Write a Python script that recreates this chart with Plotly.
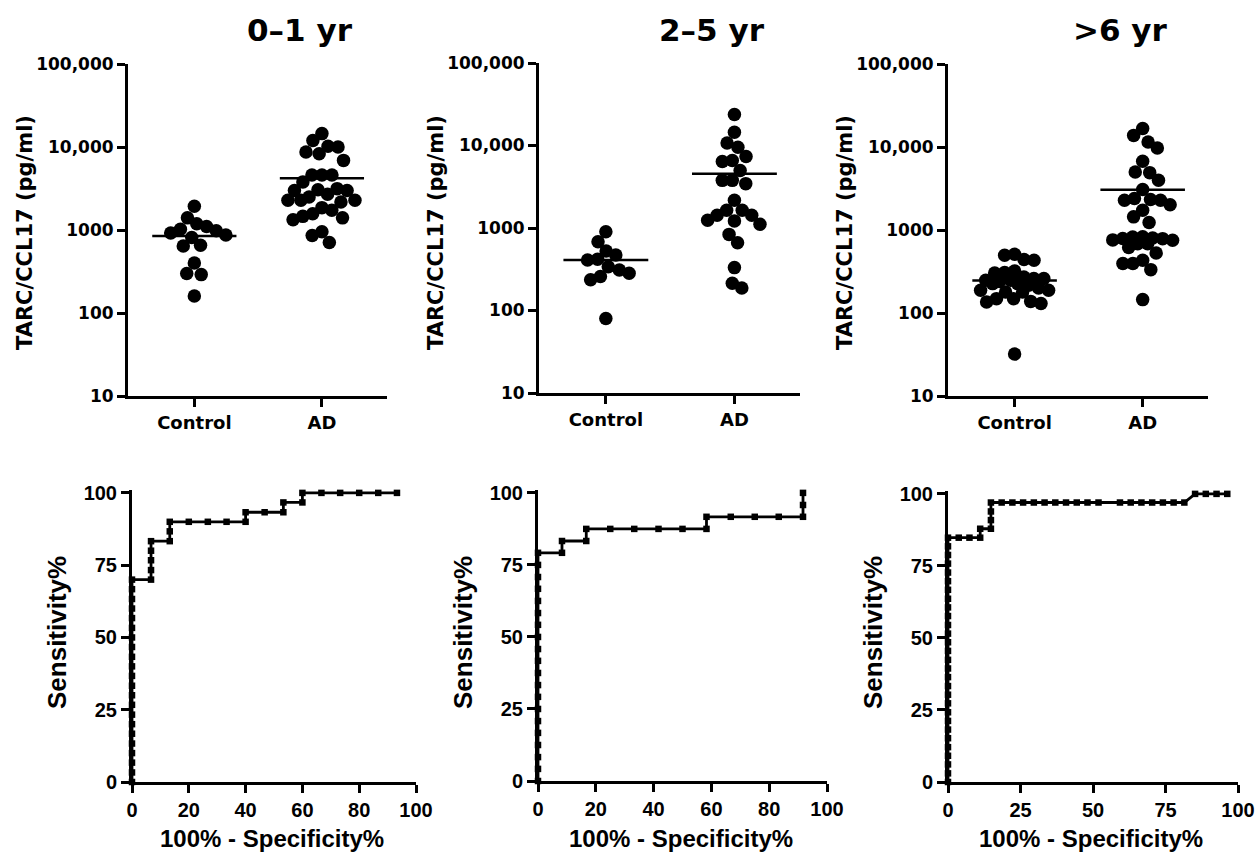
import numpy as np
import plotly.graph_objects as go

W, H = 1259, 853

# ---------------- data ----------------
panel_titles = ["0\u20131 yr", "2\u20135 yr", ">6 yr"]
groups = ["Control", "AD"]

ctrl_0_1 = [1930, 1400, 1190, 1100, 1020, 980, 920, 870, 810, 655, 640, 400, 300, 290, 160]
ad_0_1 = [14500, 12000, 10200, 10000, 8700, 8300, 6900, 4600, 4600, 4600, 3800, 3150, 3000,
          3000, 3060, 2700, 2500, 2280, 2280, 2280, 2170, 1860, 1730, 1570, 1400, 1330, 1460,
          950, 860, 705]

ctrl_2_5 = [900, 682, 526, 471, 418, 410, 340, 310, 283, 258, 236, 80]
ad_2_5 = [23700, 14500, 10700, 9540, 7360, 6590, 6410, 4990, 3780, 3780, 3450, 2170, 1640,
          1640, 1430, 1430, 1240, 1220, 1110, 837, 662, 331, 214, 187]

ctrl_6 = [510, 440, 431, 495, 307, 321, 303, 260, 272, 248, 248, 226, 216, 226, 188, 179,
          179, 188, 149, 136, 130, 138, 149, 32, 240, 200, 260]
ad_6 = [16700, 13800, 11500, 9720, 6730, 4910, 5000, 3970, 3070, 2390, 2280, 2020, 2280,
        2330, 1730, 1440, 1230, 752, 825, 787, 685, 830, 614, 685, 800, 760, 790, 528, 431,
        394, 333, 394, 145]

y_tickvals = [10, 100, 1000, 10000, 100000]
y_ticktext = ["10", "100", "1000", "10,000", "100,000"]

roc1_fpr = [0, 0, 0, 0, 0, 0, 0, 0, 0, 0, 0, 0, 0, 0, 0, 0, 0, 0, 0, 0, 0, 0,
            6.7, 6.7, 6.7, 6.7, 6.7, 13.3, 13.3, 13.3, 20, 26.7, 33.3, 40, 40, 46.7,
            53.3, 53.3, 60, 60, 66.7, 73.3, 80, 86.7, 93.3]
roc1_sens = [0, 3.3, 6.7, 10, 13.3, 16.7, 20, 23.3, 26.7, 30, 33.3, 36.7, 40, 43.3, 46.7,
             50, 53.3, 56.7, 60, 63.3, 66.7, 70,
             70, 73.3, 76.7, 80, 83.3, 83.3, 86.7, 90, 90, 90, 90, 90, 93.3, 93.3,
             93.3, 96.7, 96.7, 100, 100, 100, 100, 100, 100]

roc2_fpr = [0, 0, 0, 0, 0, 0, 0, 0, 0, 0, 0, 0, 0, 0, 0, 0, 0, 0, 0, 0,
            8.3, 8.3, 16.7, 16.7, 25, 33.3, 41.7, 50, 58.3, 58.3, 66.7, 75, 83.3,
            91.7, 91.7, 91.7]
roc2_sens = [0, 4.2, 8.3, 12.5, 16.7, 20.8, 25, 29.2, 33.3, 37.5, 41.7, 45.8, 50, 54.2,
             58.3, 62.5, 66.7, 70.8, 75, 79.2,
             79.2, 83.3, 83.3, 87.5, 87.5, 87.5, 87.5, 87.5, 87.5, 91.7, 91.7, 91.7, 91.7,
             91.7, 95.8, 100]

roc3_fpr = [0, 0, 0, 0, 0, 0, 0, 0, 0, 0, 0, 0, 0, 0, 0, 0, 0, 0, 0, 0, 0, 0, 0, 0, 0,
            0, 0, 0, 0,
            3.7, 7.4, 11.1, 11.1, 14.8, 14.8, 14.8, 14.8,
            18.5, 22.2, 25.9, 29.6, 33.3, 37.0, 40.7, 44.4, 48.1, 51.9, 59.3, 63.0, 66.7,
            70.4, 74.1, 77.8, 81.5, 85.2, 88.9, 92.6, 96.3]
roc3_sens = [0, 3.0, 6.1, 9.1, 12.1, 15.2, 18.2, 21.2, 24.2, 27.3, 30.3, 33.3, 36.4, 39.4,
             42.4, 45.5, 48.5, 51.5, 54.5, 57.6, 60.6, 63.6, 66.7, 69.7, 72.7, 75.8, 78.8,
             81.8, 84.8,
             84.8, 84.8, 84.8, 87.9, 87.9, 90.9, 93.9, 97.0,
             97.0, 97.0, 97.0, 97.0, 97.0, 97.0, 97.0, 97.0, 97.0, 97.0, 97.0, 97.0, 97.0,
             97.0, 97.0, 97.0, 97.0, 100, 100, 100, 100]

roc_xticks = [[0, 20, 40, 60, 80, 100], [0, 20, 40, 60, 80, 100], [0, 25, 50, 75, 100]]
roc_yticks = [0, 25, 50, 75, 100]

scatter_sets = [(ctrl_0_1, ad_0_1), (ctrl_2_5, ad_2_5), (ctrl_6, ad_6)]
roc_sets = [(roc1_fpr, roc1_sens), (roc2_fpr, roc2_sens), (roc3_fpr, roc3_sens)]

# ---------------- layout geometry (pixels) ----------------
top_x = [(128, 387), (539, 800), (948, 1208)]
top_y = [(64, 396), (63, 393), (64, 396)]
bot_x = [(132, 416), (538, 827), (948, 1238)]
bot_y = [(490, 782), (490, 781), (491, 782)]
XR = [-0.52, 1.51]


def xd(a, b):
    return [a / W, b / W]


def yd(a, b):
    return [1 - b / H, 1 - a / H]


def swarm(values, d_px, squeeze, max_half, px_decade, px_unit):
    """Beeswarm with an elliptical exclusion zone and a limited half-width."""
    ys = np.log10(np.asarray(values, float)) * px_decade
    order = np.argsort(-ys, kind="stable")
    placed = []
    xs = np.zeros(len(ys))

    def min_gap(c, y):
        if not placed:
            return np.inf
        return min(((c - px) * squeeze) ** 2 + (y - py) ** 2 for px, py in placed)

    grid = np.arange(-max_half, max_half + 0.01, 1.0)
    for i in order:
        y = ys[i]
        cands = [0.0]
        for (px, py) in placed:
            dy = y - py
            if abs(dy) < d_px:
                dx = np.sqrt(d_px ** 2 - dy ** 2) / squeeze
                cands += [px - dx, px + dx]
        cands = [c for c in cands if abs(c) <= max_half + 1e-9]
        cands.sort(key=lambda c: (round(abs(c), 6), c))
        chosen = None
        for c in cands:
            if min_gap(c, y) >= d_px ** 2 - 1e-6:
                chosen = c
                break
        if chosen is None:
            gaps = [min_gap(g, y) for g in grid]
            chosen = float(grid[int(np.argmax(gaps))])
        placed.append((chosen, y))
        xs[i] = chosen / px_unit
    return xs


fig = go.Figure()
TOPF = "DejaVu Sans"
BOTF = "Liberation Sans"

layout = dict(
    width=W, height=H, margin=dict(l=0, r=0, t=0, b=0, autoexpand=False),
    paper_bgcolor="white", plot_bgcolor="white", showlegend=False,
)
annotations = []


def ann(text, xpx, ypx, family, size, angle=0):
    return dict(text=text, xref="paper", yref="paper", x=xpx / W, y=1 - ypx / H,
                xanchor="center", yanchor="middle", textangle=angle, showarrow=False,
                font=dict(family=family, size=size, color="black", weight="bold"))


for k in range(3):
    # ---- top scatter panel ----
    ax = 2 * k + 1
    xa = "x" if ax == 1 else f"x{ax}"
    ya = "y" if ax == 1 else f"y{ax}"
    (x0, x1), (y0, y1) = top_x[k], top_y[k]
    px_unit = (x1 - x0) / (XR[1] - XR[0])
    px_decade = (y1 - y0) / 4.0
    for gi, vals in enumerate(scatter_sets[k]):
        offs = swarm(vals, 16.0, 1.6, 34.0, px_decade, px_unit)
        fig.add_trace(go.Scatter(
            x=gi + offs, y=vals, mode="markers", xaxis=xa, yaxis=ya,
            marker=dict(size=13.5, color="black", line=dict(width=0)),
            cliponaxis=False, hoverinfo="skip"))
        m = float(np.mean(vals))
        fig.add_trace(go.Scatter(
            x=[gi - 0.33, gi + 0.33], y=[m, m], mode="lines", xaxis=xa, yaxis=ya,
            line=dict(color="black", width=2.5), hoverinfo="skip"))
    layout["xaxis" if ax == 1 else f"xaxis{ax}"] = dict(
        domain=xd(x0, x1), anchor=ya, range=XR, tickvals=[0, 1], ticktext=groups,
        ticks="outside", ticklen=8, tickwidth=3, tickcolor="black", automargin=False,
        showline=True, linewidth=3, linecolor="black", showgrid=False, zeroline=False,
        tickfont=dict(family=TOPF, size=18, color="black", weight="bold"))
    layout["yaxis" if ax == 1 else f"yaxis{ax}"] = dict(
        domain=yd(y0, y1), anchor=xa, type="log", range=[1, 5],
        tickvals=y_tickvals, ticktext=y_ticktext, automargin=False,
        ticks="outside", ticklen=8, tickwidth=3, tickcolor="black",
        showline=True, linewidth=3, linecolor="black", showgrid=False, zeroline=False,
        tickfont=dict(family=TOPF, size=17, color="black", weight="bold"))
    annotations.append(ann(panel_titles[k], (x0 + x1) / 2 + 42, 30, TOPF, 31))
    annotations.append(ann("TARC/CCL17 (pg/ml)", x0 - 103, 233, TOPF, 21, -90))

    # ---- bottom ROC panel ----
    ax = 2 * k + 2
    xa, ya = f"x{ax}", f"y{ax}"
    (x0, x1), (y0, y1) = bot_x[k], bot_y[k]
    fpr, sens = roc_sets[k]
    fig.add_trace(go.Scatter(
        x=fpr, y=sens, mode="lines+markers", xaxis=xa, yaxis=ya,
        line=dict(color="black", width=2.8),
        marker=dict(symbol="square", size=6.5, color="black"),
        cliponaxis=False, hoverinfo="skip"))
    layout[f"xaxis{ax}"] = dict(
        domain=xd(x0, x1), anchor=ya, range=[0, 100], tickvals=roc_xticks[k],
        ticks="outside", ticklen=8, tickwidth=3, tickcolor="black", automargin=False,
        showline=True, linewidth=3, linecolor="black", showgrid=False, zeroline=False,
        tickfont=dict(family=BOTF, size=20, color="black", weight="bold"))
    layout[f"yaxis{ax}"] = dict(
        domain=yd(y0, y1), anchor=xa, range=[0, 101], tickvals=roc_yticks,
        ticks="outside", ticklen=8, tickwidth=3, tickcolor="black", automargin=False,
        showline=True, linewidth=3, linecolor="black", showgrid=False, zeroline=False,
        tickfont=dict(family=BOTF, size=20, color="black", weight="bold"))
    annotations.append(ann("Sensitivity%", x0 - 75, 633, BOTF, 26, -90))
    annotations.append(ann("100% - Specificity%", (x0 + x1) / 2 - 2, 838, BOTF, 24))

layout["annotations"] = annotations
fig.update_layout(**layout)
fig.write_html("out.html")
